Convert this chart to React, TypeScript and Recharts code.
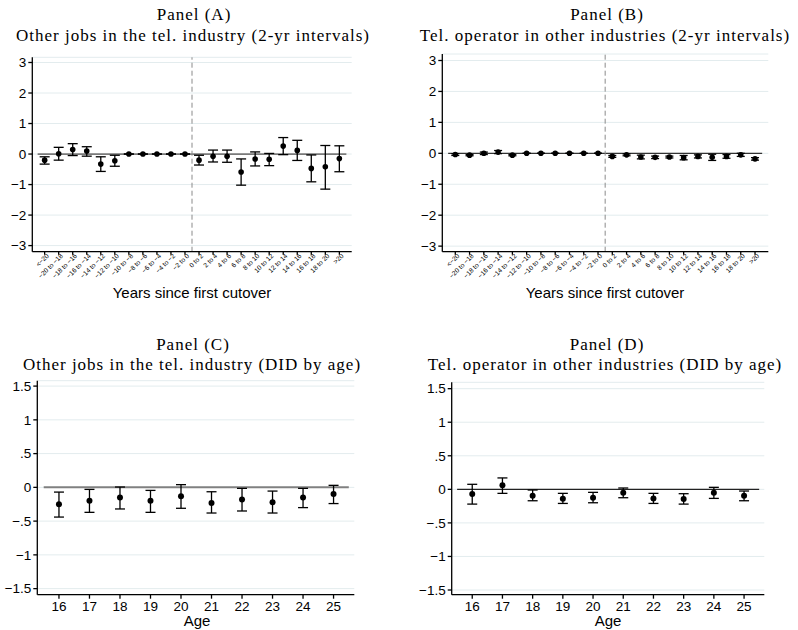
import React from "react";
import {
  ScatterChart,
  Scatter,
  XAxis,
  YAxis,
  CartesianGrid,
  ErrorBar,
  ReferenceLine,
} from "recharts";

// ---------- data ----------
const intervalLabels = [
  "<−20", "−20 to −18", "−18 to −16", "−16 to −14", "−14 to −12", "−12 to −10",
  "−10 to −8", "−8 to −6", "−6 to −4", "−4 to −2", "−2 to 0", "0 to 2", "2 to 4",
  "4 to 6", "6 to 8", "8 to 10", "10 to 12", "12 to 14", "14 to 16", "16 to 18",
  "18 to 20", ">20",
];

const panelAEst = [-0.2, 0.01, 0.15, 0.1, -0.33, -0.22, 0, 0, 0, 0, 0, -0.2, -0.07, -0.07, -0.59, -0.16, -0.17, 0.26, 0.12, -0.47, -0.42, -0.15];
const panelALow = [-0.33, -0.2, -0.05, -0.07, -0.57, -0.4, 0, 0, 0, 0, 0, -0.36, -0.26, -0.27, -1.02, -0.39, -0.38, -0.02, -0.21, -0.91, -1.15, -0.58];
const panelAHigh = [-0.09, 0.22, 0.34, 0.24, -0.09, -0.04, 0, 0, 0, 0, 0, -0.04, 0.13, 0.13, -0.16, 0.07, 0.02, 0.54, 0.45, -0.03, 0.28, 0.27];

const panelBEst = [-0.04, -0.06, 0.0, 0.04, -0.06, 0, 0, 0, 0, 0, 0, -0.1, -0.05, -0.12, -0.13, -0.12, -0.14, -0.1, -0.13, -0.1, -0.05, -0.18];
const panelBLow = [-0.07, -0.08, -0.04, -0.01, -0.08, 0, 0, 0, 0, 0, 0, -0.13, -0.08, -0.18, -0.17, -0.15, -0.21, -0.15, -0.23, -0.16, -0.1, -0.22];
const panelBHigh = [-0.01, -0.04, 0.04, 0.09, -0.04, 0, 0, 0, 0, 0, 0, -0.07, -0.02, -0.06, -0.09, -0.09, -0.07, -0.05, -0.03, -0.04, 0.0, -0.14];

const ages = [16, 17, 18, 19, 20, 21, 22, 23, 24, 25];

const panelCEst = [-0.25, -0.2, -0.15, -0.2, -0.13, -0.23, -0.18, -0.22, -0.15, -0.1];
const panelCLow = [-0.44, -0.37, -0.32, -0.37, -0.31, -0.38, -0.35, -0.38, -0.3, -0.24];
const panelCHigh = [-0.07, -0.03, 0.005, -0.045, 0.04, -0.065, -0.015, -0.055, -0.015, 0.03];

const panelDEst = [-0.07, 0.06, -0.095, -0.14, -0.125, -0.05, -0.135, -0.145, -0.05, -0.095];
const panelDLow = [-0.22, -0.06, -0.17, -0.21, -0.2, -0.125, -0.21, -0.22, -0.135, -0.17];
const panelDHigh = [0.075, 0.17, -0.01, -0.06, -0.045, 0.02, -0.06, -0.065, 0.03, -0.025];

const yTicksWide = [-3, -2, -1, 0, 1, 2, 3];
const yTicksAge = [-1.5, -1, -0.5, 0, 0.5, 1, 1.5];

// ---------- helpers ----------
const build = (xs: number[], est: number[], low: number[], high: number[]) =>
  xs.map((x, i) => ({ x, y: est[i], err: [est[i] - low[i], high[i] - est[i]] }));

const intervalIdx = intervalLabels.map((_, i) => i + 1);
const dataA = build(intervalIdx, panelAEst, panelALow, panelAHigh);
const dataB = build(intervalIdx, panelBEst, panelBLow, panelBHigh);
const dataC = build(ages, panelCEst, panelCLow, panelCHigh);
const dataD = build(ages, panelDEst, panelDLow, panelDHigh);

const fmtY = (v: number) => {
  if (v === 0) return "0";
  const a = Math.abs(v);
  let s = String(a);
  if (a < 1) s = s.replace(/^0\./, ".");
  return (v < 0 ? "−" : "") + s;
};

const SANS = "'Liberation Sans', Arial, sans-serif";
const SERIF = "'Liberation Serif', 'Times New Roman', serif";
const GRID = "#e3ecee";

const RotTick = (props: any) => {
  const { x, y, payload } = props;
  const label = intervalLabels[Math.round(payload.value) - 1] ?? "";
  return (
    <g transform={`translate(${x + 3},${y - 1})`}>
      <text
        x={0}
        y={0}
        dy="0.35em"
        textAnchor="end"
        transform="rotate(-45)"
        fontSize={6.6}
        fontFamily={SANS}
        fill="#000"
      >
        {label}
      </text>
    </g>
  );
};

const Dot = (r: number) => (props: any) => (
  <circle cx={props.cx} cy={props.cy} r={r} fill="#000" />
);

type PanelProps = {
  data: any[];
  left: number;
  top: number;
  width: number;
  height: number;
  margin: { top: number; right: number; bottom: number; left: number };
  yWidth: number;
  xHeight: number;
  xDomain: [number, number];
  yDomain: [number, number];
  xTicks: number[];
  yTicks: number[];
  zeroSeg: [number, number];
  zeroStroke: string;
  zeroWidth: number;
  dashX?: number;
  interval: boolean;
  dotR: number;
  capW: number;
};

const Panel = (p: PanelProps) => (
  <div style={{ position: "absolute", left: p.left, top: p.top }}>
    <ScatterChart width={p.width} height={p.height} margin={p.margin}>
      <CartesianGrid vertical={false} stroke={GRID} strokeWidth={1} />
      <XAxis
        type="number"
        dataKey="x"
        domain={p.xDomain}
        ticks={p.xTicks}
        interval={0}
        allowDataOverflow
        height={p.xHeight}
        stroke="#000"
        strokeWidth={1.3}
        tickSize={p.interval ? 3 : 4}
        tickMargin={p.interval ? 1 : 3}
        tick={
          p.interval
            ? <RotTick />
            : { fontSize: 13.5, fontFamily: SANS, fill: "#000" }
        }
      />
      <YAxis
        type="number"
        dataKey="y"
        domain={p.yDomain}
        ticks={p.yTicks}
        interval={0}
        allowDataOverflow
        width={p.yWidth}
        stroke="#000"
        strokeWidth={1.3}
        tickSize={4}
        tickMargin={2}
        tickFormatter={fmtY}
        tick={{ fontSize: 13.5, fontFamily: SANS, fill: "#000" }}
      />
      <ReferenceLine
        segment={[
          { x: p.zeroSeg[0], y: 0 },
          { x: p.zeroSeg[1], y: 0 },
        ]}
        stroke={p.zeroStroke}
        strokeWidth={p.zeroWidth}
      />
      {p.dashX !== undefined && (
        <ReferenceLine x={p.dashX} stroke="#8a8a8a" strokeWidth={1} strokeDasharray="5 3" />
      )}
      <Scatter data={p.data} dataKey="y" isAnimationActive={false} shape={Dot(p.dotR)}>
        <ErrorBar dataKey="err" direction="y" width={p.capW} stroke="#000" strokeWidth={1.3} />
      </Scatter>
    </ScatterChart>
  </div>
);

const Text = ({
  children,
  cx,
  top,
  size,
  family,
  spacing = 0,
}: {
  children: React.ReactNode;
  cx: number;
  top: number;
  size: number;
  family: string;
  spacing?: number;
}) => (
  <div
    style={{
      position: "absolute",
      left: cx - 250,
      width: 500,
      top,
      textAlign: "center",
      fontSize: size,
      lineHeight: `${size}px`,
      fontFamily: family,
      letterSpacing: spacing,
      color: "#000",
      whiteSpace: "nowrap",
    }}
  >
    {children}
  </div>
);

const TS = 17;
const LS = 1.0;

export default function App() {
  return (
    <div
      style={{
        position: "absolute",
        left: 0,
        top: 0,
        width: 798,
        height: 630,
        background: "#fff",
        overflow: "hidden",
      }}
    >
      {/* Panel A */}
      <Text cx={194} top={6} size={TS} family={SERIF} spacing={LS}>Panel (A)</Text>
      <Text cx={193} top={27} size={TS} family={SERIF} spacing={LS}>
        Other jobs in the tel. industry (2-yr intervals)
      </Text>
      <Panel
        data={dataA}
        left={0}
        top={0}
        width={400}
        height={310}
        margin={{ top: 57.3, right: 48.3, bottom: 0, left: 0 }}
        yWidth={32.3}
        xHeight={58.3}
        xDomain={[0.12, 22.88]}
        yDomain={[-3.2, 3.17]}
        xTicks={intervalIdx}
        yTicks={yTicksWide}
        zeroSeg={[0.5, 22.5]}
        zeroStroke="#7a7a7a"
        zeroWidth={1.8}
        dashX={11.5}
        interval
        dotR={2.8}
        capW={5}
      />
      <Text cx={192} top={285} size={15} family={SANS}>Years since first cutover</Text>

      {/* Panel B */}
      <Text cx={607} top={6} size={TS} family={SERIF} spacing={LS}>Panel (B)</Text>
      <Text cx={605} top={27} size={TS} family={SERIF} spacing={LS}>
        Tel. operator in other industries (2-yr intervals)
      </Text>
      <Panel
        data={dataB}
        left={400}
        top={0}
        width={398}
        height={310}
        margin={{ top: 54, right: 29.7, bottom: 0, left: 0 }}
        yWidth={42.3}
        xHeight={58.3}
        xDomain={[0.09, 22.93]}
        yDomain={[-3.18, 3.21]}
        xTicks={intervalIdx}
        yTicks={yTicksWide}
        zeroSeg={[0.5, 22.5]}
        zeroStroke="#333"
        zeroWidth={1.2}
        dashX={11.5}
        interval
        dotR={2.8}
        capW={4}
      />
      <Text cx={605} top={285} size={15} family={SANS}>Years since first cutover</Text>

      {/* Panel C */}
      <Text cx={193} top={336} size={TS} family={SERIF} spacing={LS}>Panel (C)</Text>
      <Text cx={192} top={356} size={TS} family={SERIF} spacing={LS}>
        Other jobs in the tel. industry (DID by age)
      </Text>
      <Panel
        data={dataC}
        left={0}
        top={330}
        width={400}
        height={300}
        margin={{ top: 50.7, right: 45.7, bottom: 0, left: 0 }}
        yWidth={37.3}
        xHeight={35.3}
        xDomain={[15.29, 25.68]}
        yDomain={[-1.59, 1.58]}
        xTicks={ages}
        yTicks={yTicksAge}
        zeroSeg={[15.5, 25.5]}
        zeroStroke="#808080"
        zeroWidth={2}
        interval={false}
        dotR={3}
        capW={5}
      />
      <Text cx={197} top={613} size={15} family={SANS}>Age</Text>

      {/* Panel D */}
      <Text cx={607} top={336} size={TS} family={SERIF} spacing={LS}>Panel (D)</Text>
      <Text cx={605} top={356} size={TS} family={SERIF} spacing={LS}>
        Tel. operator in other industries (DID by age)
      </Text>
      <Panel
        data={dataD}
        left={400}
        top={330}
        width={398}
        height={300}
        margin={{ top: 52.3, right: 33.7, bottom: 0, left: 0 }}
        yWidth={51.7}
        xHeight={35.3}
        xDomain={[15.32, 25.67]}
        yDomain={[-1.57, 1.595]}
        xTicks={ages}
        yTicks={yTicksAge}
        zeroSeg={[15.5, 25.5]}
        zeroStroke="#222"
        zeroWidth={1.2}
        interval={false}
        dotR={3}
        capW={5}
      />
      <Text cx={608} top={613} size={15} family={SANS}>Age</Text>
    </div>
  );
}
